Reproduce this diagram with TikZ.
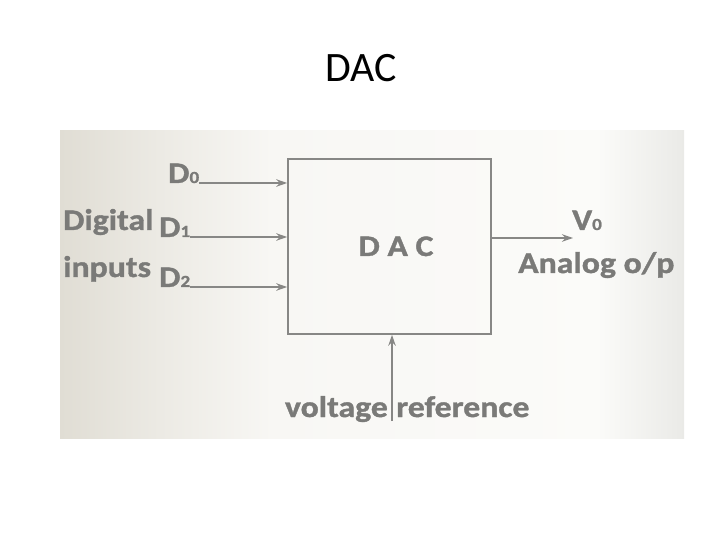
\documentclass[tikz,border=0pt]{standalone}
\usepackage{fontspec}
\setmainfont{Carlito}
\newfontfamily\scanfont[FakeStretch=1.13, FakeBold=1.2]{Carlito}
\usetikzlibrary{arrows.meta}

\definecolor{inkgray}{RGB}{122,122,120}
\definecolor{linegray}{RGB}{135,135,133}
\definecolor{paperleft}{RGB}{224,221,212}
\definecolor{paperwarm}{RGB}{236,234,228}
\definecolor{paperlight}{RGB}{248,247,244}
\definecolor{papermid}{RGB}{251,251,249}
\definecolor{paperright}{RGB}{234,234,231}

% scanned sheet: beige on the left, white in the middle, grey at the right edge
\pgfdeclarehorizontalshading{scanpaper}{100bp}{
    color(0bp)=(paperleft); color(25bp)=(paperleft);
    color(33bp)=(paperwarm); color(42bp)=(paperlight);
    color(68bp)=(papermid); color(75bp)=(paperright);
    color(100bp)=(paperright)}

\newcommand{\lblfont}{\scanfont\bfseries\fontsize{30}{30}\selectfont}
\newcommand{\subdig}[1]{{\fontsize{17}{17}\selectfont #1}}

\begin{document}
\begin{tikzpicture}[
    x=1bp, y=-1bp,
    >={Stealth[length=11bp, width=7.5bp]},
    every node/.style={inner sep=0pt, font=\lblfont, text=inkgray},
    sig/.style={->, line width=1.6bp, draw=linegray},
    titletext/.style={font=\fontsize{42}{42}\selectfont, text=black},
]
\useasboundingbox (0,0) rectangle (720,540);

% === Slide title ===
\node[titletext, anchor=base] (title) at (361,82) {DAC};

% === Scanned sheet behind the diagram ===
\shade[shading=scanpaper] (60,131) rectangle (684,438);

% === Converter block ===
\node[draw=linegray, line width=1.6bp, minimum width=203bp, minimum height=175bp]
    (dac) at (389.5,246.5) {};
\node[anchor=base] (dactxt) at (396,256) {D A C};

% === Digital inputs (left) ===
\node[anchor=base west] (digital) at (63,230) {Digital};
\node[anchor=base west] (inputs) at (63,277) {inputs};
\node[anchor=base west] (d0) at (168,183) {D\subdig{0}};
\node[anchor=base west] (d1) at (159,237) {D\subdig{1}};
\node[anchor=base west] (d2) at (159,287) {D\subdig{2}};
\foreach \bit in {d0, d1, d2} {
    \draw[sig] (\bit.base east) -- (\bit.base east -| dac.west);
}

% === Analog output (right) ===
\coordinate (vout) at (573,238);
\draw[sig] (vout -| dac.east) -- (vout);
\node[anchor=base west] (v0) at (572,230) {V\subdig{0}};
\node[anchor=base west] (analog) at (518,273) {Analog o/p};

% === Reference voltage (bottom) ===
\node[anchor=base east] (voltage) at (388,417) {voltage};
\node[anchor=base west] (reference) at (396,417) {reference};
\coordinate (vref) at (392,421);
\draw[sig] (vref) -- (vref |- dac.south);

\end{tikzpicture}
\end{document}
